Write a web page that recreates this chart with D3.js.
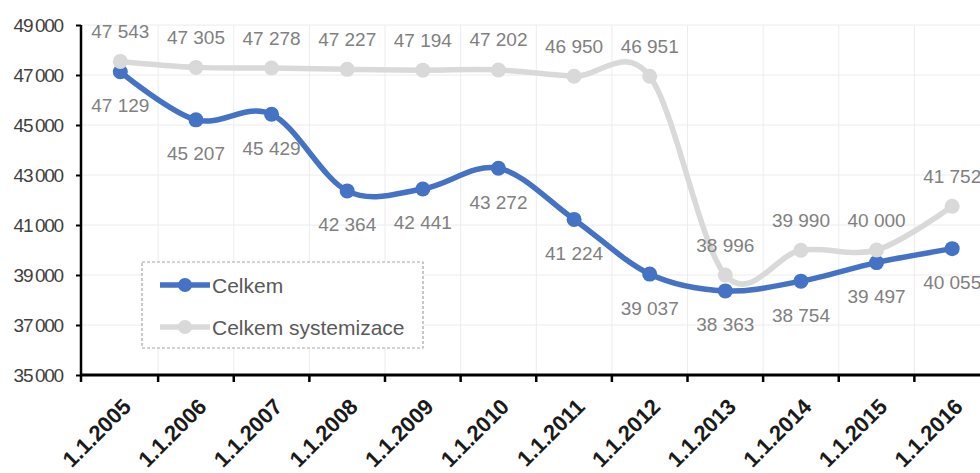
<!DOCTYPE html>
<html><head><meta charset="utf-8">
<script src="https://cdn.jsdelivr.net/npm/d3@7"></script>
<style>
html,body{margin:0;padding:0;background:#fff;}
svg{display:block;font-family:"Liberation Sans",Arial,sans-serif;}
</style></head>
<body><svg id="c" width="980" height="473"></svg>
<script>
const categories = ["1.1.2005","1.1.2006","1.1.2007","1.1.2008","1.1.2009","1.1.2010","1.1.2011","1.1.2012","1.1.2013","1.1.2014","1.1.2015","1.1.2016"];
const celkem = [47129,45207,45429,42364,42441,43272,41224,39037,38363,38754,39497,40055];
const systemizace = [47543,47305,47278,47227,47194,47202,46950,46951,38996,39990,40000,41752];
const yTicks = [35000,37000,39000,41000,43000,45000,47000,49000];
const seriesNames = ["Celkem","Celkem systemizace"];

const svg = d3.select("#c");
const x = d3.scaleBand().domain(categories).range([82.5, 990]).padding(0);
const y = d3.scaleLinear().domain([35000, 49000]).range([375, 25]);
const cx = c => x(c) + x.bandwidth()/2;
const fmt = v => d3.format(",")(v).replace(",", "\u00a0");

// grid
const g = svg.append("g");
g.selectAll(".hg").data(yTicks.slice(1)).join("line")
  .attr("x1", 81).attr("x2", 980).attr("y1", d=>y(d)).attr("y2", d=>y(d))
  .attr("stroke", "#ececec").attr("stroke-width", 1);
g.selectAll(".vg").data(categories.slice(1)).join("line")
  .attr("x1", d=>x(d)).attr("x2", d=>x(d)).attr("y1", y(49000)).attr("y2", y(35000))
  .attr("stroke", "#ececec").attr("stroke-width", 1);

// y axis
const yAxis = d3.axisLeft(y).tickValues(yTicks).tickSize(5).tickPadding(13)
  .tickFormat(d => d3.format(",")(d).replace(",", "\u2009"));
const ya = svg.append("g").attr("transform", "translate(81,0)").call(yAxis);
ya.select(".domain").attr("stroke", "#000").attr("stroke-width", 2.5).attr("d", `M0,${y(49000)}V${y(35000)}`);
ya.selectAll(".tick line").attr("stroke", "#000").attr("stroke-width", 2);
ya.selectAll(".tick text").attr("font-size", 19).attr("fill", "#404040").attr("letter-spacing", "-1.2px")
  .attr("font-family", "'Liberation Sans',Arial,sans-serif");

// x axis
const xa = svg.append("g");
xa.append("line").attr("x1", 80).attr("x2", 980).attr("y1", y(35000)).attr("y2", y(35000))
  .attr("stroke", "#000").attr("stroke-width", 3);
xa.selectAll(".xt").data(categories.slice(1)).join("line")
  .attr("x1", d=>x(d)).attr("x2", d=>x(d)).attr("y1", y(35000)).attr("y2", y(35000)+7)
  .attr("stroke", "#000").attr("stroke-width", 2.5);
xa.append("line").attr("x1", 81).attr("x2", 81).attr("y1", y(35000)).attr("y2", y(35000)+7)
  .attr("stroke", "#000").attr("stroke-width", 2.5);
xa.selectAll(".xl").data(categories).join("text")
  .attr("transform", d => `translate(${cx(d)+12},${y(35000)+33}) rotate(-45)`)
  .attr("text-anchor", "end").attr("font-size", 22).attr("font-weight", "bold")
  .attr("fill", "#1a1a1a").text(d=>d);

// lines
const line = d3.line().x((d,i)=>cx(categories[i])).y(d=>y(d)).curve(d3.curveCatmullRom.alpha(0));
svg.append("path").datum(systemizace).attr("d", line).attr("fill","none")
  .attr("stroke","#d9d9d9").attr("stroke-width",5.5);
svg.append("path").datum(celkem).attr("d", line).attr("fill","none")
  .attr("stroke","#4472c4").attr("stroke-width",5.5);
svg.selectAll(".mc").data(celkem).join("circle")
  .attr("cx",(d,i)=>cx(categories[i])).attr("cy",d=>y(d)).attr("r",7.5).attr("fill","#4472c4");
svg.selectAll(".ms").data(systemizace).join("circle")
  .attr("cx",(d,i)=>cx(categories[i])).attr("cy",d=>y(d)).attr("r",7.5).attr("fill","#d9d9d9");

// labels
svg.selectAll(".ls").data(systemizace).join("text")
  .attr("x",(d,i)=>cx(categories[i])).attr("y",d=>y(d)-30)
  .attr("text-anchor","middle").attr("dominant-baseline","central")
  .attr("font-size",19).attr("fill","#808080").text(fmt);
svg.selectAll(".lc").data(celkem).join("text")
  .attr("x",(d,i)=>cx(categories[i])).attr("y",d=>y(d)+34)
  .attr("text-anchor","middle").attr("dominant-baseline","central")
  .attr("font-size",19).attr("fill","#808080").text(fmt);

// legend
const lg = svg.append("g");
lg.append("rect").attr("x",142).attr("y",262).attr("width",281).attr("height",86)
  .attr("fill","#fff").attr("stroke","#a6a6a6").attr("stroke-width",1.2).attr("stroke-dasharray","3,2");
const colors = ["#4472c4","#d9d9d9"];
seriesNames.forEach((n,i)=>{
  const yy = 285 + i*42;
  lg.append("line").attr("x1",160).attr("x2",210).attr("y1",yy).attr("y2",yy)
    .attr("stroke",colors[i]).attr("stroke-width",5.5);
  lg.append("circle").attr("cx",185).attr("cy",yy).attr("r",7).attr("fill",colors[i]);
  lg.append("text").attr("x",212).attr("y",yy).attr("dominant-baseline","central")
    .attr("font-size",21).attr("fill","#595959").text(n);
});
</script></body></html>
